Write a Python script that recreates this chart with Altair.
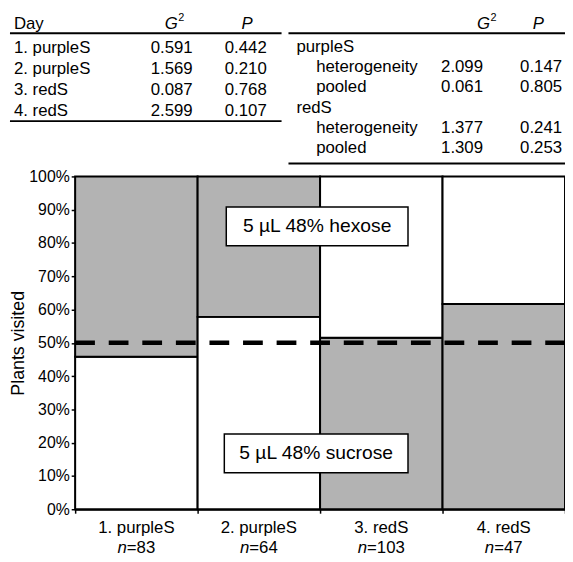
import altair as alt
import pandas as pd

FONT = "Liberation Sans"

# ---- data ----
days = ["1. purpleS", "2. purpleS", "3. redS", "4. redS"]
n_plants = [83, 64, 103, 47]
sucrose_pct = [45.8, 57.8, 51.5, 61.7]          # lower segment (sucrose flowers)
sucrose_flower = ["purple", "purple", "red", "red"]
hexose_flower = ["red", "red", "purple", "purple"]

t1_day = ["1. purpleS", "2. purpleS", "3. redS", "4. redS"]
t1_g2 = ["0.591", "1.569", "0.087", "2.599"]
t1_p = ["0.442", "0.210", "0.768", "0.107"]

t2_label = ["purpleS", "heterogeneity", "pooled", "redS", "heterogeneity", "pooled"]
t2_indent = [0, 1, 1, 0, 1, 1]
t2_g2 = ["", "2.099", "0.061", "", "1.377", "1.309"]
t2_p = ["", "0.147", "0.805", "", "0.241", "0.253"]

box_text = ["5 µL 48% hexose", "5 µL 48% sucrose"]
box_x0 = [1.234, 1.218]
box_x1 = [2.718, 2.718]
box_y0 = [79.2, 11.0]
box_y1 = [90.8, 22.6]

W, H = 496, 337
BAR_PX = W / 4.0

# ---- frames ----
seg_rows = []
for i in range(4):
    seg_rows.append(dict(x0=i, x1=i + 1, y0=0, y1=sucrose_pct[i], flower=sucrose_flower[i]))
    seg_rows.append(dict(x0=i, x1=i + 1, y0=sucrose_pct[i], y1=100, flower=hexose_flower[i]))
seg = pd.DataFrame(seg_rows)

lab_fs = 17
lab_rows = []
for i in range(4):
    num = str(n_plants[i])
    w_n = 0.556 * lab_fs
    total = w_n + 0.584 * lab_fs + 0.556 * lab_fs * len(num)
    split = (w_n - total / 2) / BAR_PX
    lab_rows.append(dict(xc=i + 0.5, xn=i + 0.5 + split, day=days[i], eq="=" + num))
labs = pd.DataFrame(lab_rows)

boxes = pd.DataFrame(dict(text=box_text, x0=box_x0, x1=box_x1, y0=box_y0, y1=box_y1))
boxes["xc"] = (boxes.x0 + boxes.x1) / 2
boxes["yc"] = (boxes.y0 + boxes.y1) / 2

t1 = pd.DataFrame(dict(r=range(4), day=t1_day, g2=t1_g2, p=t1_p))
t2 = pd.DataFrame(dict(r=range(6), label=t2_label, ind=t2_indent, g2=t2_g2, p=t2_p))

xscale = alt.Scale(domain=[0, 4], nice=False, zero=False)
yscale = alt.Scale(domain=[0, 100], nice=False)

xaxis = alt.Axis(values=[0, 1, 2, 3, 4], labels=False, ticks=True, tickSize=4,
                 tickColor="black", tickWidth=1.5, domainColor="black",
                 domainWidth=2, grid=False, title=None)
yaxis = alt.Axis(values=list(range(0, 101, 10)), labelExpr="datum.value + '%'",
                 labelOverlap=False, tickSize=4, tickColor="black", tickWidth=1.5,
                 domainColor="black", domainWidth=2, grid=False,
                 labelFontSize=16, labelFont=FONT, labelColor="black", labelPadding=2,
                 title="Plants visited", titleFontSize=18, titleFont=FONT,
                 titleFontWeight="normal", titleColor="black", titlePadding=1)

def X(f):
    return alt.X(f, scale=xscale, axis=xaxis)

def Y(f):
    return alt.Y(f, scale=yscale, axis=yaxis)

bars = alt.Chart(seg).mark_rect(stroke="black", strokeWidth=2).encode(
    x=X("x0:Q"), x2="x1:Q", y=Y("y0:Q"), y2="y1:Q",
    fill=alt.Fill("flower:N", scale=alt.Scale(domain=["purple", "red"],
                                              range=["white", "#b3b3b3"]), legend=None),
)

dash = alt.Chart(pd.DataFrame({"v": [50]})).mark_rule(
    color="black", strokeWidth=4.5, strokeDash=[20, 14]
).encode(y=Y("v:Q"))

box_rect = alt.Chart(boxes).mark_rect(fill="white", stroke="black", strokeWidth=1.5).encode(
    x=X("x0:Q"), x2="x1:Q", y=Y("y0:Q"), y2="y1:Q")
box_txt = alt.Chart(boxes).mark_text(font=FONT, fontSize=19.5, color="black",
                                     baseline="middle").encode(
    x=X("xc:Q"), y=Y("yc:Q"), text="text:N")

xl1 = alt.Chart(labs).mark_text(font=FONT, fontSize=lab_fs, color="black",
                                baseline="middle").encode(
    x=X("xc:Q"), y=alt.value(H + 19), text="day:N")
xl2a = alt.Chart(labs).mark_text(font=FONT, fontSize=lab_fs, color="black", fontStyle="italic",
                                 baseline="middle", align="right").encode(
    x=X("xn:Q"), y=alt.value(H + 39), text=alt.value("n"))
xl2b = alt.Chart(labs).mark_text(font=FONT, fontSize=lab_fs, color="black",
                                 baseline="middle", align="left").encode(
    x=X("xn:Q"), y=alt.value(H + 39), text="eq:N")

# ---- tables (positions relative to the plot origin) ----
TFS = 17
def tcol(df, field, x, align, y0, dy):
    return alt.Chart(df).transform_calculate(py=f"{y0} + datum.r * {dy}").mark_text(
        font=FONT, fontSize=TFS, color="black", baseline="middle", align=align
    ).encode(x=alt.value(x), y=alt.Y("py:Q", scale=None), text=f"{field}:N")

HY = -154.5
def header(x, text, italic=True, align="center"):
    return alt.Chart(pd.DataFrame({"t": [text]})).mark_text(
        font=FONT, fontSize=TFS, color="black", baseline="middle", align=align,
        fontStyle="italic" if italic else "normal"
    ).encode(x=alt.value(x), y=alt.value(HY), text="t:N")

def sup(x):
    return alt.Chart(pd.DataFrame({"t": ["2"]})).mark_text(
        font=FONT, fontSize=11, color="black", baseline="middle", align="left"
    ).encode(x=alt.value(x), y=alt.value(HY - 6), text="t:N")

def hline(x0, x1, y):
    return alt.Chart(pd.DataFrame({"a": [0]})).mark_rule(color="black", strokeWidth=2).encode(
        x=alt.value(x0), x2=alt.value(x1), y=alt.value(y))

T1Y0, T1DY = -130, 21.2
T2Y0, T2DY = -131, 20.5

t2_main = t2[t2.ind == 0]
t2_sub = t2[t2.ind == 1]

tables = [
    header(-62, "Day", italic=False, align="left"),
    header(104, "G", align="right"), sup(104.5),
    header(174, "P"),
    hline(-66, 209, -145), hline(-66, 209, -56),
    tcol(t1, "day", -62, "left", T1Y0, T1DY),
    tcol(t1, "g2", 119, "right", T1Y0, T1DY),
    tcol(t1, "p", 194, "right", T1Y0, T1DY),
    header(420, "G", align="right"), sup(420.5),
    header(469, "P"),
    hline(216, 496, -145), hline(216, 496, -13),
    tcol(t2_main, "label", 224, "left", T2Y0, T2DY),
    tcol(t2_sub, "label", 244, "left", T2Y0, T2DY),
    tcol(t2, "g2", 413, "right", T2Y0, T2DY),
    tcol(t2, "p", 493, "right", T2Y0, T2DY),
]

chart = alt.layer(bars, dash, box_rect, box_txt, xl1, xl2a, xl2b, *tables).properties(
    width=W, height=H,
    autosize=alt.AutoSizeParams(type="none"),
    padding={"left": 68, "top": 167, "right": 0, "bottom": 60},
).configure_view(stroke=None).configure(background="white")

chart.save("out.html", embed_options={"renderer": "svg", "actions": False})
